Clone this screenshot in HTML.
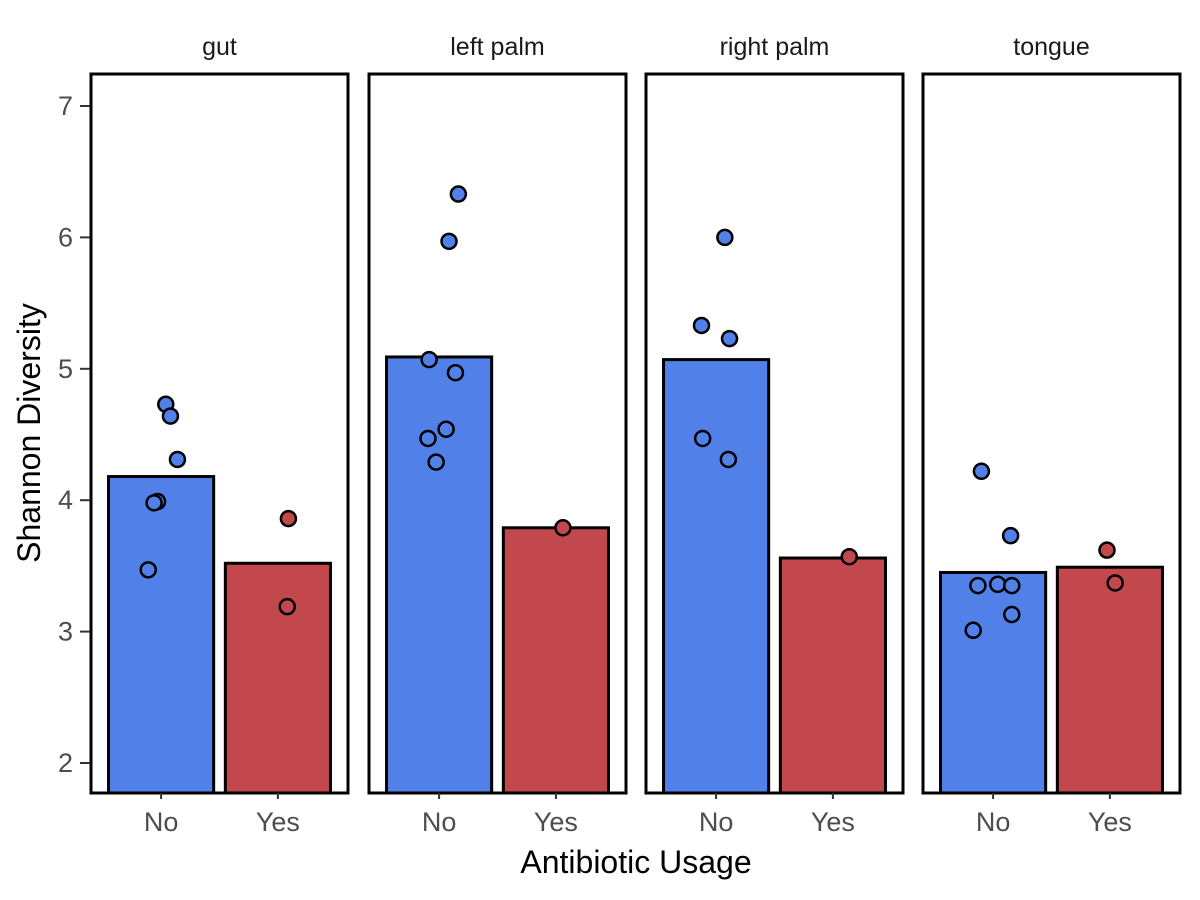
<!DOCTYPE html>
<html><head><meta charset="utf-8"><style>
body{margin:0;background:#fff}
svg{display:block;font-family:"Liberation Sans",Arial,sans-serif}
</style></head><body>
<svg id="chart" width="1200" height="900" viewBox="0 0 1200 900"></svg>
<script>
const facets = ["gut","left palm","right palm","tongue"];
const groups = ["No","Yes"];
const barNo = [4.18, 5.09, 5.07, 3.45];
const barYes = [3.52, 3.79, 3.56, 3.49];
// points: facet index, group index, value, jitter (category units)
const ptFacet = [0,0,0,0,0,0, 0,0, 1,1,1,1,1,1,1, 1, 2,2,2,2,2, 2, 3,3,3,3,3,3,3, 3,3];
const ptGroup = [0,0,0,0,0,0, 1,1, 0,0,0,0,0,0,0, 1, 0,0,0,0,0, 1, 0,0,0,0,0,0,0, 1,1];
const ptValue = [4.73,4.64,4.31,3.99,3.98,3.47, 3.86,3.19, 6.33,5.97,5.07,4.97,4.54,4.47,4.29, 3.79, 6.00,5.33,5.23,4.47,4.31, 3.57, 4.22,3.73,3.35,3.36,3.35,3.13,3.01, 3.62,3.37];
const ptJitter = [0.04,0.08,0.14,-0.03,-0.06,-0.11, 0.09,0.08, 0.165,0.085,-0.085,0.14,0.06,-0.095,-0.025, 0.06, 0.075,-0.125,0.115,-0.115,0.105, 0.14, -0.1,0.15,-0.13,0.04,0.16,0.16,-0.17, -0.025,0.045];
const yTicks = [2,3,4,5,6,7];
const colors = ["#5280E9","#C2484D"];

const NS="http://www.w3.org/2000/svg";
const svg=document.getElementById('chart');
const panelX=[91,369,646,923], pw=257, yTop=74, yBottom=793;
const y=v=>763-(v-2)*131.4;
const xc=(f,g,j)=>panelX[f]+(0.6+g+(j||0))*pw/2.2;
function el(t,a,p){const e=document.createElementNS(NS,t);for(const k in a)e.setAttribute(k,a[k]);(p||svg).appendChild(e);return e;}

const defs=el('defs',{});
facets.forEach((f,i)=>{const cp=el('clipPath',{id:'c'+i},defs);el('rect',{x:panelX[i],y:yTop,width:pw,height:yBottom-yTop},cp);});

facets.forEach((f,i)=>{
  const g=el('g',{'clip-path':'url(#c'+i+')'});
  
  
  const bw=0.9*pw/2.2;
  [barNo[i],barYes[i]].forEach((v,k)=>{
    const r=el('rect',{x:xc(i,k)-bw/2,y:y(v),width:bw,height:yBottom+20-y(v),fill:colors[k],stroke:'#000','stroke-width':3},g);
    
    
  });
  ptValue.forEach((v,p)=>{
    if(ptFacet[p]!==i)return;
    const c=el('circle',{cx:xc(i,ptGroup[p],ptJitter[p]),cy:y(v),r:7.5,fill:colors[ptGroup[p]],stroke:'#000','stroke-width':2.5},g);
    
    
  });
  const b=el('rect',{x:panelX[i],y:yTop,width:pw,height:yBottom-yTop,fill:'none',stroke:'#000','stroke-width':3});
  
  
  const t=el('text',{x:panelX[i]+pw/2,y:55,'text-anchor':'middle','font-size':25,fill:'#1a1a1a'});
  t.textContent=f;
  
  
  groups.forEach((gname,k)=>{
    el('line',{x1:xc(i,k),x2:xc(i,k),y1:yBottom,y2:yBottom+6,stroke:'#333','stroke-width':2});
    const tl=el('text',{x:xc(i,k),y:831,'text-anchor':'middle','font-size':27,fill:'#4d4d4d'});
    tl.textContent=gname;
    
    
  });
});
yTicks.forEach(v=>{
  el('line',{x1:80,x2:90,y1:y(v),y2:y(v),stroke:'#333','stroke-width':2});
  const t=el('text',{x:73,y:y(v)+9,'text-anchor':'end','font-size':27,fill:'#4d4d4d'});
  t.textContent=v;
  
  
});
const xt=el('text',{x:636,y:873,'text-anchor':'middle','font-size':32,fill:'#000'});
xt.textContent='Antibiotic Usage';


const yt=el('text',{x:0,y:0,transform:'translate(40,433) rotate(-90)','text-anchor':'middle','font-size':32,fill:'#000'});
yt.textContent='Shannon Diversity';


</script>
</body></html>
